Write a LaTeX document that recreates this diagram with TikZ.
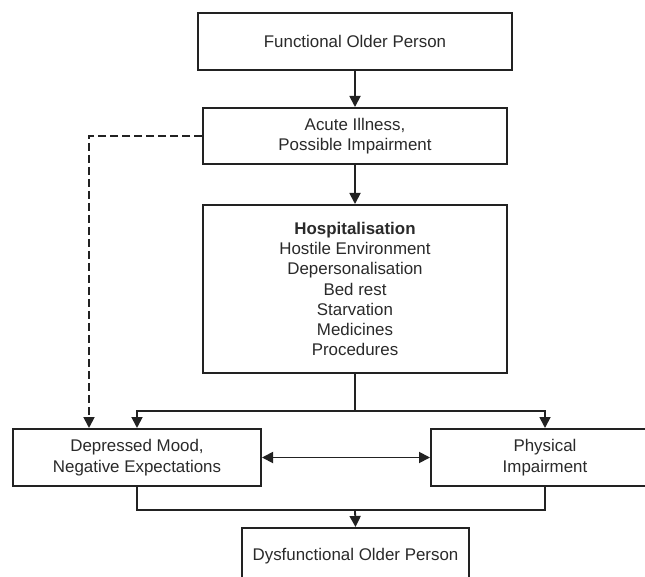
\documentclass[tikz,border=0pt]{standalone}
\usepackage{fontspec}
\setmainfont{Liberation Sans}
\usetikzlibrary{arrows.meta,calc}
\definecolor{ink}{HTML}{222222}
\definecolor{txt}{HTML}{2A2A2A}
\begin{document}
\begin{tikzpicture}[x=1pt,y=-1pt,
  box/.style={draw=ink,line width=2pt,rectangle,inner sep=0pt,
    align=center,text=txt,font=\fontsize{16.9}{20.3}\selectfont},
  link/.style={draw=ink,line width=1.8pt},
  tip/.style={-{Triangle[length=11pt,width=11pt]}},
  bothtips/.style={{Triangle[length=11pt,width=11pt]}-{Triangle[length=11pt,width=11pt]}},
  dashlink/.style={link,dash pattern=on 8pt off 4pt}]
\useasboundingbox (0,0) rectangle (645,577);
\clip (0,0) rectangle (645,577);
\fill[white] (0,0) rectangle (645,577);

% boxes
\node[box,minimum width=314pt,minimum height=57pt] (fop) at (355,41.5) {Functional Older Person};
\node[box,minimum width=304pt,minimum height=56pt] (acute) at (355,136) {Acute Illness,\\Possible Impairment};
\node[box,minimum width=304pt,minimum height=168pt] (hosp) at (355,289)
  {\textbf{Hospitalisation}\\Hostile Environment\\Depersonalisation\\Bed rest\\Starvation\\Medicines\\Procedures};
\node[box,minimum width=248pt,minimum height=57pt] (dep) at (137,457.5) {Depressed Mood,\\Negative Expectations};
\node[box,minimum width=228pt,minimum height=57pt] (phys) at (545,457.5) {Physical\\Impairment};
\node[box,minimum width=227pt,minimum height=57pt] (dop) at (355.5,556.5) {Dysfunctional Older Person};

% junction points
\coordinate (dashcorner) at (89,136);
\coordinate (split) at (355,411);
\coordinate (join) at (355,510);

% connectors
\draw[link,tip] (fop.south) -- (acute.north);
\draw[link,tip] (acute.south) -- (hosp.north);
\draw[dashlink,tip] (acute.west) -- (dashcorner) -- (dashcorner |- dep.north);
\draw[link] (hosp.south) -- (split);
\draw[link,tip] (split) -| (dep.north);
\draw[link,tip] (split) -| (phys.north);
\draw[link,bothtips] (dep.east) -- (phys.west);
\draw[link] (dep.south) |- (join) -| (phys.south);
\draw[link,tip] (join) -- (dop.north);
\end{tikzpicture}
\end{document}
